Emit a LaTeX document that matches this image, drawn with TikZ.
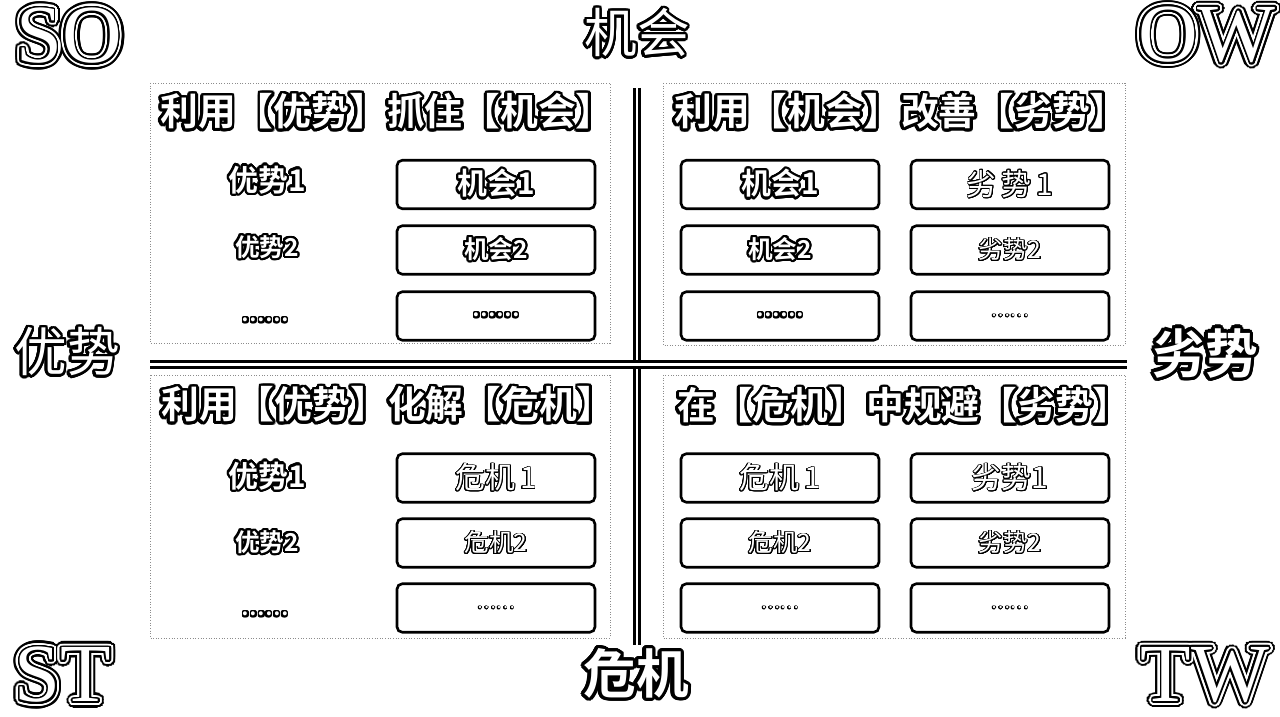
\documentclass[tikz,border=0pt]{standalone}
\usepackage{fontspec}
\usepackage{contour}
\setmainfont{Liberation Serif}
\newfontfamily\cjkb{Noto Sans CJK SC Bold}
\newfontfamily\cjkl{Noto Sans CJK SC}
\contournumber{24}
\newcommand\ring[1]{\rlap{\contourlength{3.5pt}\contour{black}{#1}}\rlap{\contourlength{2.2pt}\contour{white}{#1}}\contourlength{1pt}\contour{black}{#1}}
\newcommand\ol[1]{\contour{black}{#1}}

\begin{document}
\begin{tikzpicture}[x=0.02cm, y=-0.02cm,
    every node/.style = {inner sep=0pt, text=white, align=center},
    corner/.style = {font=\fontsize{47}{47}\selectfont},
    big/.style = {font=\cjkb\fontsize{30}{30}\selectfont\contourlength{1.9pt}},
    bigthin/.style = {font=\cjkl\fontsize{30}{30}\selectfont\contourlength{1.5pt}},
    title/.style = {font=\cjkb\fontsize{21.5}{21.5}\selectfont\contourlength{1.6pt}},
    item/.style = {font=\cjkb\fontsize{17}{17}\selectfont\contourlength{1.3pt}},
    itemsm/.style = {font=\cjkb\fontsize{14}{14}\selectfont\contourlength{1.15pt}},
    dotsb/.style = {font=\cjkb\fontsize{12}{12}\selectfont\contourlength{1pt}},
    thin/.style = {font=\cjkl\fontsize{17}{17}\selectfont\contourlength{0.5pt}},
    thinsm/.style = {font=\cjkl\fontsize{14}{14}\selectfont\contourlength{0.5pt}},
    dotsl/.style = {font=\cjkl\fontsize{10}{10}\selectfont\contourlength{0.35pt}},
    card/.style = {draw=black, line width=1.5pt, rounded corners=3pt,
        minimum width=3.96cm, minimum height=0.97cm},
    quad/.style = {draw=black!45, densely dotted, line width=0.5pt},
    divider/.style = {draw=black, line width=1.7pt, double=white, double distance=1.3pt}]

    \fill[white] (0,0) rectangle (1280,716);
    \useasboundingbox (0,0) rectangle (1280,716);

    \draw[quad] (150,83) rectangle (610,343);
    \draw[quad] (663,83) rectangle (1125,345);
    \draw[quad] (150,375) rectangle (610,638);
    \draw[quad] (663,375) rectangle (1125,638);

    \coordinate (vtop) at (637,88);
    \coordinate (vbot) at (637,645);
    \coordinate (hleft) at (150,364.5);
    \coordinate (hright) at (1127,364.5);
    \draw[divider] (vtop) -- (vbot);
    \draw[divider] (hleft) -- (hright);

    \node[corner] (so) at (69,39) {\ring{SO}};
    \node[corner] (ow) at (1207,38) {\ring{OW}};
    \node[corner] (st) at (63,678) {\ring{ST}};
    \node[corner] (tw) at (1205,678) {\ring{TW}};

    \node[bigthin] (opp) at (637,34) {\ol{机会}};
    \node[big] (thr) at (636,675) {\ol{危机}};
    \node[bigthin] (str) at (67,353) {\ol{优势}};
    \node[big] (wea) at (1205,355) {\ol{劣势}};

    \node[title] (so title) at (387,113) {\ol{利用【优势】抓住【机会】}};
    \node[title] (ow title) at (901,113) {\ol{利用【机会】改善【劣势】}};
    \node[title] (st title) at (388,406) {\ol{利用【优势】化解【危机】}};
    \node[title] (tw title) at (904,407) {\ol{在【危机】中规避【劣势】}};

    \node[item] (so s1) at (267,181) {\ol{优势1}};
    \node[itemsm] (so s2) at (267,248) {\ol{优势2}};
    \node[dotsb] (so s3) at (265,321) {\ol{……}};
    \node[card, item] (so o1) at (496,184.5) {\ol{机会1}};
    \node[card, itemsm] (so o2) at (496,250) {\ol{机会2}};
    \node[card, dotsb] (so o3) at (496,316) {\ol{……}};

    \node[card, item] (ow o1) at (780,184.5) {\ol{机会1}};
    \node[card, itemsm] (ow o2) at (780,250) {\ol{机会2}};
    \node[card, dotsb] (ow o3) at (780,316) {\ol{……}};
    \node[card, thin] (ow w1) at (1010,184.5) {\ol{劣\,势\,1}};
    \node[card, thinsm] (ow w2) at (1010,250) {\ol{劣势2}};
    \node[card, dotsl] (ow w3) at (1010,316) {\ol{……}};

    \node[item] (st s1) at (267,477) {\ol{优势1}};
    \node[itemsm] (st s2) at (267,543) {\ol{优势2}};
    \node[dotsb] (st s3) at (265,615) {\ol{……}};
    \node[card, thin] (st t1) at (496,478) {\ol{危机\,1}};
    \node[card, thinsm] (st t2) at (496,543) {\ol{危机2}};
    \node[card, dotsl] (st t3) at (496,608) {\ol{……}};

    \node[card, thin] (tw t1) at (780,478) {\ol{危机\,1}};
    \node[card, thinsm] (tw t2) at (780,543) {\ol{危机2}};
    \node[card, dotsl] (tw t3) at (780,608) {\ol{……}};
    \node[card, thin] (tw w1) at (1010,478) {\ol{劣势1}};
    \node[card, thinsm] (tw w2) at (1010,543) {\ol{劣势2}};
    \node[card, dotsl] (tw w3) at (1010,608) {\ol{……}};
\end{tikzpicture}
\end{document}
